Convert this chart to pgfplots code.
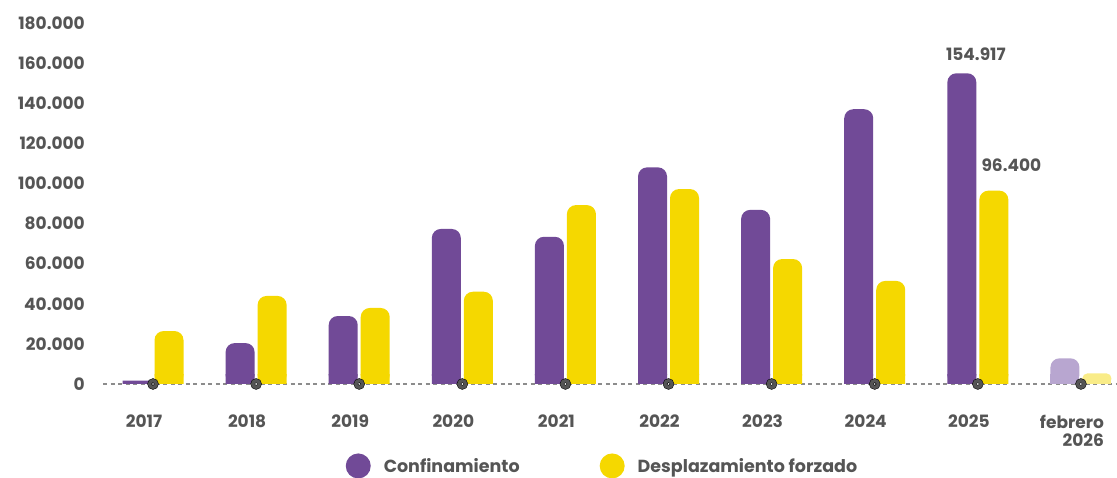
\documentclass[border=0pt]{standalone}
\usepackage{pgfplots}
\usepackage{pgfplotstable}
\pgfplotsset{compat=1.18}
\usepackage{fontspec}
\setmainfont{Poppins Bold}
\definecolor{pur}{HTML}{714A97}
\definecolor{yel}{HTML}{F5D800}
\definecolor{lpur}{HTML}{B8A6D0}
\definecolor{lyel}{HTML}{F9EC88}
\definecolor{txt}{HTML}{555555}
\definecolor{dashc}{HTML}{8C8C8C}
\pgfplotstableread{
x conf desp
0 1700 26400
1 20400 43900
2 33900 37900
3 77300 46000
4 73400 89200
5 108000 97200
6 86800 62300
7 137000 51400
8 154917 96400
}\main
\pgfplotstableread{
x conf desp
9 12800 5300
}\feb
\pgfplotstableread{
x y
0 0
1 0
2 0
3 0
4 0
5 0
6 0
7 0
8 0
9 0
}\base
\newcommand\lf{\fontsize{17}{18.5}\selectfont}
\begin{document}
\begin{tikzpicture}
\useasboundingbox (0,0) rectangle (1117pt,478pt);
\begin{axis}[
  at={(103pt,94pt)}, anchor=south west,
  scale only axis, width=1014pt, height=361pt,
  xmin=-0.485, xmax=9.35, ymin=0, ymax=180000,
  clip=false,
  axis line style={draw=none},
  major tick length=0pt,
  ytick={0,20000,40000,60000,80000,100000,120000,140000,160000,180000},
  yticklabels={0,20.000,40.000,60.000,80.000,100.000,120.000,140.000,160.000,180.000},
  scaled y ticks=false,
  yticklabel style={font=\lf, text=txt, anchor=east, inner sep=0pt, xshift=-18pt},
  xtick={0,...,9},
  xticklabels={2017,2018,2019,2020,2021,2022,2023,2024,2025,{febrero\\2026}},
  xticklabel style={font=\lf, text=txt, align=right, anchor=north, inner sep=0pt, xshift=-9pt, yshift=-30.5pt},
  legend columns=2,
  legend style={at={(axis description cs:0.2392,-0.227)}, anchor=west, draw=none, fill=none, inner sep=0pt,
    font=\fontsize{17.5}{17.5}\selectfont, text=txt,
    /tikz/every odd column/.append style={column sep=11pt},
    /tikz/every even column/.append style={column sep=78pt}},
]
\draw[dashc, line width=1.3pt, dash pattern=on 4pt off 3.5pt] (axis cs:-0.485,0) -- (axis cs:9.35,0);
\addplot[ybar, bar width=29pt, bar shift=-16pt, fill=pur, draw=none, rounded corners=9pt,
  skip coords between index={0}{1},
  legend image code/.code={\fill[pur] (0pt,0pt) circle (12.5pt);}] table[x=x,y=conf]{\main};
\addlegendentry{Confinamiento}
\addplot[ybar, bar width=29pt, bar shift=16pt, fill=yel, draw=none, rounded corners=9pt,
  legend image code/.code={\fill[yel] (0pt,0pt) circle (12.5pt);}] table[x=x,y=desp]{\main};
\addlegendentry{Desplazamiento forzado}
\addplot[ybar, bar width=29pt, bar shift=-16pt, fill=lpur, draw=none, rounded corners=9pt, forget plot] table[x=x,y=conf]{\feb};
\addplot[ybar, bar width=29pt, bar shift=16pt, fill=lyel, draw=none, rounded corners=5pt, forget plot] table[x=x,y=desp]{\feb};
\begin{scope}
\clip (axis cs:-0.485,0) rectangle (axis cs:9.35,4600);
\addplot[ybar, bar width=29pt, bar shift=-16pt, fill=pur, draw=none, forget plot] table[x=x,y=conf]{\main};
\addplot[ybar, bar width=29pt, bar shift=16pt, fill=yel, draw=none, forget plot] table[x=x,y=desp]{\main};
\addplot[ybar, bar width=29pt, bar shift=-16pt, fill=lpur, draw=none, forget plot] table[x=x,y=conf]{\feb};
\end{scope}
\begin{scope}
\clip (axis cs:-0.485,0) rectangle (axis cs:9.35,2550);
\addplot[ybar, bar width=29pt, bar shift=16pt, fill=lyel, draw=none, forget plot] table[x=x,y=desp]{\feb};
\end{scope}
\addplot[only marks, mark=*, mark size=5.5pt, mark options={fill=txt, draw=none}, forget plot] table[x=x,y=y]{\base};
\addplot[only marks, mark=*, mark size=1.5pt, mark options={fill=white, draw=none}, forget plot] table[x=x,y=y]{\base};
\node[anchor=base west, inner sep=0pt, font=\lf, text=txt, xshift=-32pt, yshift=13pt] at (axis cs:8,154917) {154.917};
\node[anchor=base west, inner sep=0pt, font=\lf, text=txt, xshift=3.5pt, yshift=19.5pt] at (axis cs:8,96400) {96.400};
\end{axis}
\end{tikzpicture}
\end{document}
